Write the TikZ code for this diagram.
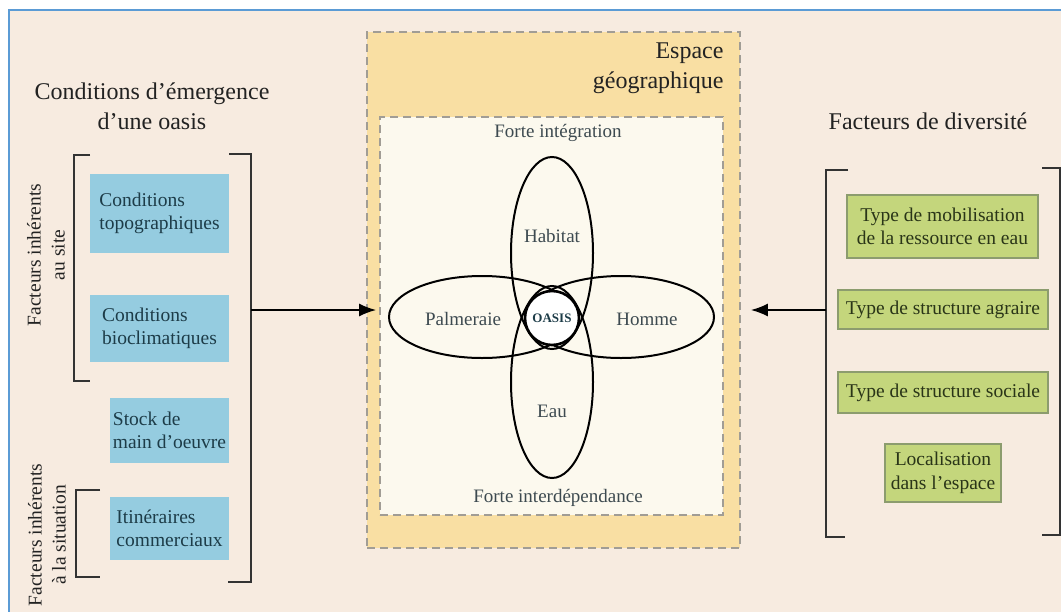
\documentclass[tikz,border=0pt]{standalone}
\usepackage{fontspec}
\setmainfont{Liberation Serif}
\usetikzlibrary{arrows.meta}
\definecolor{fond}{HTML}{F7EBE0}
\definecolor{cadre}{HTML}{5B9BD5}
\definecolor{jaune}{HTML}{F9DFA3}
\definecolor{creme}{HTML}{FCF9EE}
\definecolor{bleu}{HTML}{95CCE0}
\definecolor{vert}{HTML}{C4D67C}
\definecolor{vertbord}{HTML}{8C9C6E}
\definecolor{tirets}{HTML}{A19D95}
\definecolor{texte}{HTML}{222222}
\definecolor{texteb}{HTML}{1D3C48}
\definecolor{textev}{HTML}{2A3518}
\definecolor{textec}{HTML}{3D4A50}
\tikzset{
  titre/.style={font=\fontsize{24}{30}\selectfont, text=texte, align=center},
  cote/.style={rotate=90, font=\fontsize{19.5}{24}\selectfont, text=texte, align=center},
  facteur/.style={fill=bleu, font=\fontsize{19.5}{23.5}\selectfont, text=texteb, align=left, inner sep=0pt},
  diversite/.style={fill=vert, draw=vertbord, line width=1.5pt, font=\fontsize{19.5}{23.5}\selectfont, text=textev, align=center, inner sep=0pt},
  crochet/.style={line width=2pt, draw=black!80},
  fleche/.style={line width=1.6pt, -{Latex[length=17pt,width=13pt]}},
  pointille/.style={draw=tirets, line width=1.8pt, dash pattern=on 8pt off 5pt},
  petale/.style={line width=2pt},
  etiquette/.style={font=\fontsize{19}{23}\selectfont, text=textec}
}
\begin{document}
\begin{tikzpicture}[x=1pt,y=-1pt]
    \useasboundingbox (0,0) rectangle (1061,611);
    \fill[white] (0,0) rectangle (1061,611);
    \filldraw[fill=fond, draw=cadre, line width=1.5pt] (9,10) rectangle (1063,613);
    % titres
    \node[titre] (t1) at (152,106) {Conditions d'émergence\\d'une oasis};
    \node[titre] (t2) at (928,121) {Facteurs de diversité};
    \node[cote] (site) at (46,255) {Facteurs inhérents\\au site};
    \node[cote] (situ) at (47,535) {Facteurs inhérents\\à la situation};
    % espace geographique
    \node[pointille, fill=jaune, minimum width=373, minimum height=516] (espace) at (553.5,290) {};
    \node[pointille, fill=creme, minimum width=343, minimum height=398] (interieur) at (551.5,316) {};
    \node[titre, align=right, anchor=east] (geo) at (727,68) {Espace\\géographique};
    \node[etiquette] (integ) at (558,133) {Forte intégration};
    \node[etiquette] (interd) at (558,498) {Forte interdépendance};
    \draw[petale] (552,253) ellipse [x radius=41, y radius=96];
    \draw[petale] (552,382) ellipse [x radius=41, y radius=96];
    \draw[petale] (482,317) ellipse [x radius=93, y radius=41];
    \draw[petale] (621,317) ellipse [x radius=93, y radius=41];
    \node[circle, draw, line width=2.6pt, fill=white, minimum size=54, inner sep=0pt,
          font=\bfseries\fontsize{13}{13}\selectfont, text=texteb] (oasis) at (552,318) {OASIS};
    \node[etiquette] (habitat) at (552,236) {Habitat};
    \node[etiquette] (eau) at (552,411) {Eau};
    \node[etiquette] (palm) at (463,319) {Palmeraie};
    \node[etiquette] (homme) at (647,319) {Homme};
    % facteurs a gauche
    \node[facteur, minimum width=139, minimum height=79] (topo) at (159.5,213.5) {Conditions\\topographiques};
    \node[facteur, minimum width=139, minimum height=67] (bio) at (159.5,328.5) {Conditions\\bioclimatiques};
    \node[facteur, minimum width=119, minimum height=65] (stock) at (169.5,430.5) {Stock de\\main d'oeuvre};
    \node[facteur, minimum width=119, minimum height=63] (itin) at (169.5,528.5) {Itinéraires\\commerciaux};
    \draw[crochet] (90,155) -- (74,155) -- (74,381) -- (90,381);
    \draw[crochet] (100,490) -- (76,490) -- (76,577) -- (100,577);
    \draw[crochet] (229,154) -- (251,154) -- (251,582) -- (228,582);
    % facteurs a droite
    \node[diversite, minimum width=191, minimum height=63] (mobil) at (942.5,226.5) {Type de mobilisation\\de la ressource en eau};
    \node[diversite, minimum width=210, minimum height=39] (agraire) at (943,309.5) {Type de structure agraire};
    \node[diversite, minimum width=210, minimum height=41] (sociale) at (943,392.5) {Type de structure sociale};
    \node[diversite, minimum width=116, minimum height=58] (local) at (943,473) {Localisation\\dans l'espace};
    \draw[crochet] (848,170) -- (826,170) -- (826,537) -- (845,537);
    \draw[crochet] (1042,168) -- (1060,168) -- (1060,535) -- (1042,535);
    % fleches
    \coordinate (bg) at (251,310);
    \coordinate (bd) at (826,310);
    \draw[fleche, shorten >=3pt] (bg) -- (bg -| interieur.west);
    \draw[fleche, shorten >=10pt] (bd) -- (bd -| espace.east);
\end{tikzpicture}
\end{document}
